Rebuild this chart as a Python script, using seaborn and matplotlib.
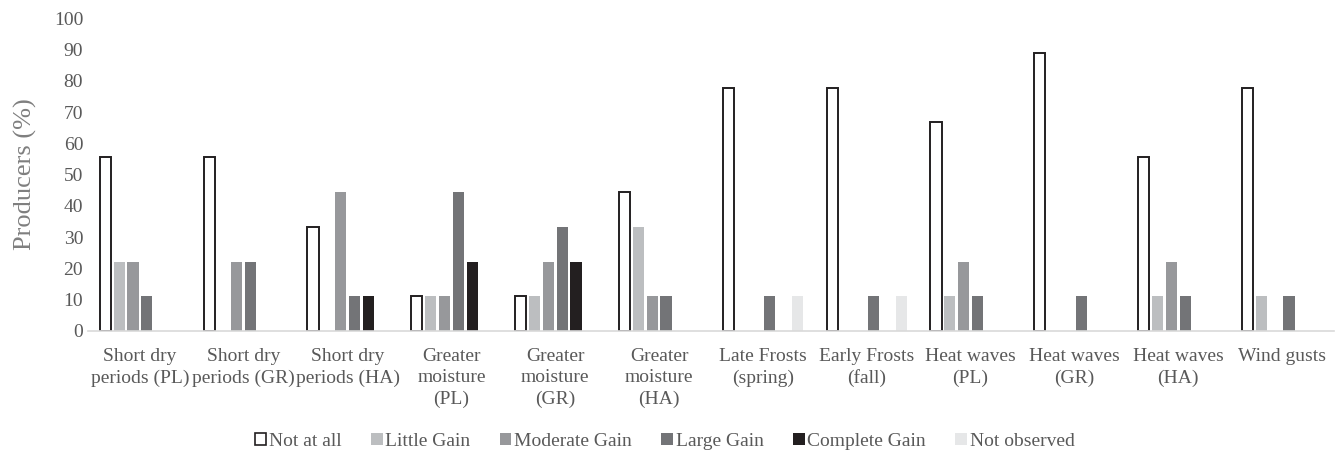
import matplotlib
matplotlib.use("Agg")
import matplotlib.pyplot as plt
from matplotlib.patches import Patch
import seaborn as sns
import pandas as pd

categories = [
    "Short dry\nperiods (PL)", "Short dry\nperiods (GR)", "Short dry\nperiods (HA)",
    "Greater\nmoisture\n(PL)", "Greater\nmoisture\n(GR)", "Greater\nmoisture\n(HA)",
    "Late Frosts\n(spring)", "Early Frosts\n(fall)", "Heat waves\n(PL)",
    "Heat waves\n(GR)", "Heat waves\n(HA)", "Wind gusts",
]
levels = ["Not at all", "Little Gain", "Moderate Gain", "Large Gain",
          "Complete Gain", "Not observed"]

not_at_all    = [55.6, 55.6, 33.3, 11.1, 11.1, 44.4, 77.8, 77.8, 66.7, 88.9, 55.6, 77.8]
little_gain   = [22.2, 0.0, 0.0, 11.1, 11.1, 33.3, 0.0, 0.0, 11.1, 0.0, 11.1, 11.1]
moderate_gain = [22.2, 22.2, 44.4, 11.1, 22.2, 11.1, 0.0, 0.0, 22.2, 0.0, 22.2, 0.0]
large_gain    = [11.1, 22.2, 11.1, 44.4, 33.3, 11.1, 11.1, 11.1, 11.1, 11.1, 11.1, 11.1]
complete_gain = [0.0, 0.0, 11.1, 22.2, 22.2, 0.0, 0.0, 0.0, 0.0, 0.0, 0.0, 0.0]
not_observed  = [0.0, 0.0, 0.0, 0.0, 0.0, 0.0, 11.1, 11.1, 0.0, 0.0, 0.0, 0.0]

series = [not_at_all, little_gain, moderate_gain, large_gain, complete_gain, not_observed]
colors = ["#ffffff", "#bcbec0", "#97989b", "#737477", "#231f20", "#e6e7e8"]
palette = dict(zip(levels, colors))

rows = []
for lvl, vals in zip(levels, series):
    for cat, v in zip(categories, vals):
        rows.append({"Event": cat, "Response": lvl, "Producers": v})
df = pd.DataFrame(rows)

sns.set_style("white")
plt.rcParams["font.family"] = ["Liberation Serif", "DejaVu Serif"]
text_gray = "#595959"

fig = plt.figure(figsize=(13.4, 4.54), dpi=100)
ax = fig.add_axes([0.0657, 0.271, 0.9298, 0.689])

sns.barplot(data=df, x="Event", y="Producers", hue="Response",
            order=categories, hue_order=levels, palette=palette,
            width=0.8, gap=0.2, linewidth=0, saturation=1,
            errorbar=None, ax=ax, legend=False)

# outline for the white "Not at all" bars
for bar in ax.containers[0]:
    bar.set_edgecolor("#231f20")
    bar.set_linewidth(1.4)

ax.set_ylim(0, 100)
ax.set_xlim(-0.5, len(categories) - 0.5)
ax.set_yticks(range(0, 101, 10))
ax.tick_params(axis="both", length=0, labelsize=14, colors=text_gray)
ax.tick_params(axis="x", pad=12)
for lab in ax.get_xticklabels():
    lab.set_linespacing(1.35)
ax.set_xlabel("")
ax.set_ylabel("Producers (%)", fontsize=19, color="#7f7f7f", labelpad=12)

for side in ["top", "right", "left"]:
    ax.spines[side].set_visible(False)
ax.spines["bottom"].set_color("#d9d9d9")
ax.spines["bottom"].set_linewidth(1.2)

handles = []
for lvl, col in zip(levels, colors):
    if col == "#ffffff":
        handles.append(Patch(facecolor=col, edgecolor="#231f20", linewidth=1.2))
    else:
        handles.append(Patch(facecolor=col, edgecolor="none"))
fig.legend(handles, levels, loc="center", bbox_to_anchor=(0.496, 0.028),
           ncol=6, frameon=False, fontsize=14, labelcolor=text_gray,
           handlelength=0.6, handleheight=0.6, handletextpad=0.15,
           columnspacing=1.5)

fig.savefig("out.png", dpi=100)
